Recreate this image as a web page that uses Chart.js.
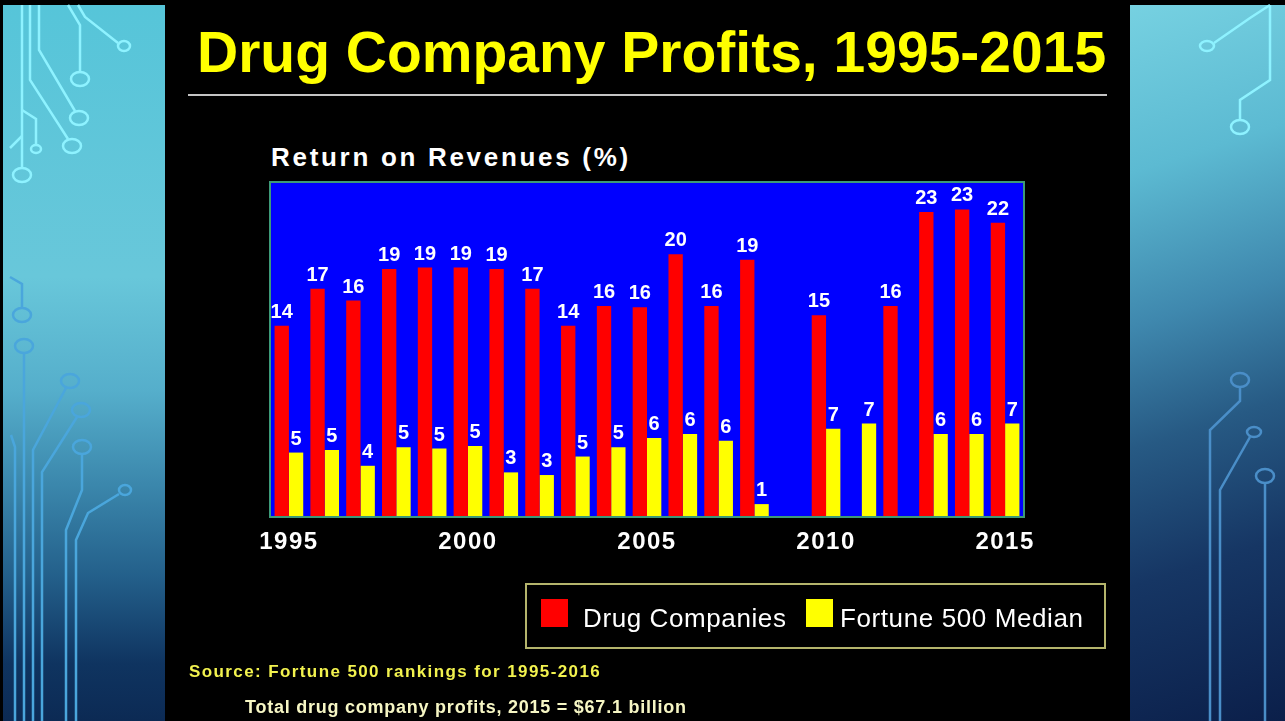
<!DOCTYPE html>
<html>
<head>
<meta charset="utf-8">
<script src="https://cdn.jsdelivr.net/npm/chart.js@4.4.1/dist/chart.umd.min.js"></script>
<style>
html,body{margin:0;padding:0;background:#000;width:1285px;height:721px;overflow:hidden;}
#stage{position:relative;width:1285px;height:721px;background:#000;overflow:hidden;}
#leftPanel{position:absolute;left:3px;top:5px;width:162px;height:716px;
  background:linear-gradient(180deg,#56c5d9 0%,#68c7da 38%,#55aecb 54%,#3b87ac 67%,#235f8a 80%,#0f3460 92%,#0c2a54 100%);}
#rightPanel{position:absolute;left:1130px;top:5px;width:155px;height:716px;
  background:linear-gradient(162deg,#76d1e1 0%,#5cbad2 22%,#3f88ae 42%,#275a84 58%,#163664 76%,#0b1f4a 100%);}
#circuit{position:absolute;left:0;top:0;}
#chart{position:absolute;left:0;top:0;}
.txt{position:absolute;white-space:nowrap;line-height:1;font-family:"Liberation Sans",Arial,Helvetica,sans-serif;}
#title{left:197px;top:24px;font-size:57px;font-weight:bold;color:#ffff00;}
#rule{position:absolute;left:188px;top:94px;width:919px;height:2px;background:#c4c4c4;}
#subtitle{left:271px;top:144px;font-size:26px;font-weight:bold;color:#ffffff;letter-spacing:2.7px;}
#legendBox{position:absolute;left:525px;top:583px;width:577px;height:62px;border:2px solid #b4b46c;}
.swatch{position:absolute;width:27px;height:28px;}
.legText{font-size:26px;color:#ffffff;letter-spacing:0.6px;}
#source{left:189px;top:663px;font-size:17px;font-weight:bold;color:#f2f24e;letter-spacing:1.4px;}
#total{left:245px;top:698px;font-size:18px;font-weight:bold;color:#f6f6c4;letter-spacing:0.76px;}
</style>
</head>
<body>
<div id="stage">
  <div id="leftPanel"></div>
  <div id="rightPanel"></div>
  <svg id="circuit" width="1285" height="721" viewBox="0 0 1285 721" fill="none" stroke-width="2.5">
    <g stroke="#8ef2ff">
      <path d="M22 5 V168"/><ellipse cx="22" cy="175" rx="9" ry="7"/>
      <path d="M30 5 V80 L68 139"/><ellipse cx="72" cy="146" rx="9" ry="7"/>
      <path d="M39 5 V50 L75 111"/><ellipse cx="79" cy="118" rx="9" ry="7"/>
      <path d="M68 5 L80 25 V72"/><ellipse cx="80" cy="79" rx="9" ry="7"/>
      <path d="M78 5 L85 17 L118 43"/><ellipse cx="124" cy="46" rx="6" ry="5"/>
      <path d="M22 110 L36 119 V144"/><ellipse cx="36" cy="149" rx="5" ry="4"/>
      <path d="M10 148 L22 136"/>
      <path d="M1270 5 L1250 18 L1214 43"/><ellipse cx="1207" cy="46" rx="7" ry="5"/>
      <path d="M1270 5 V80 L1240 100 V120"/><ellipse cx="1240" cy="127" rx="9" ry="7"/>
    </g>
    <g stroke="#4aa6dc">
      <path d="M10 277 L22 284 V308"/><ellipse cx="22" cy="315" rx="9" ry="7"/>
      <ellipse cx="24" cy="346" rx="9" ry="7"/><path d="M24 353 V721"/>
      <ellipse cx="70" cy="381" rx="9" ry="7"/><path d="M66 388 L33 450 V721"/>
      <ellipse cx="81" cy="410" rx="9" ry="7"/><path d="M77 417 L42 472 V721"/>
      <ellipse cx="82" cy="447" rx="9" ry="7"/><path d="M82 454 V490 L66 530 V721"/>
      <ellipse cx="125" cy="490" rx="6" ry="5"/><path d="M119 494 L88 513 L76 540 V721"/>
      <path d="M11 435 L15 447 V721"/>
    </g>
    <g stroke="#4a8ec8">
      <ellipse cx="1240" cy="380" rx="9" ry="7"/><path d="M1240 387 V401 L1210 430 V721"/>
      <ellipse cx="1254" cy="432" rx="7" ry="5"/><path d="M1250 437 L1220 490 V721"/>
      <ellipse cx="1265" cy="476" rx="9" ry="7"/><path d="M1265 483 V721"/>
    </g>
  </svg>
  <div id="title" class="txt">Drug Company Profits, 1995-2015</div>
  <div id="rule"></div>
  <div id="subtitle" class="txt">Return on Revenues (%)</div>
  <canvas id="chart" width="1285" height="721"></canvas>
  <div id="legendBox"></div>
  <div id="source" class="txt">Source: Fortune 500 rankings for 1995-2016</div>
  <div id="total" class="txt">Total drug company profits, 2015 = $67.1 billion</div>
</div>
<script>
// ---- data ----
const years = ['1995','1996','1997','1998','1999','2000','2001','2002','2003','2004','2005',
               '2006','2007','2008','2009','2010','2011','2012','2013','2014','2015'];
const drugCompanies = [14.4, 17.2, 16.3, 18.7, 18.8, 18.8, 18.7, 17.2, 14.4, 15.9, 15.8,
                       19.8, 15.9, 19.4, null, 15.2, null, 15.9, 23.0, 23.2, 22.2];
const fortune500Median = [4.8, 5.0, 3.8, 5.2, 5.1, 5.3, 3.3, 3.1, 4.5, 5.2, 5.9,
                          6.2, 5.7, 0.9, null, 6.6, 7.0, null, 6.2, 6.2, 7.0];
const tickYears = ['1995','2000','2005','2010','2015'];
const seriesNames = ['Drug Companies', 'Fortune 500 Median'];
const seriesColors = ['#ff0000', '#ffff00'];

const FONT = '"Liberation Sans", Arial, Helvetica, sans-serif';

const plotFrame = {
  id: 'plotFrame',
  beforeDraw(chart) {
    const {ctx, chartArea: a} = chart;
    ctx.save();
    ctx.fillStyle = '#0000ff';
    ctx.fillRect(a.left, a.top, a.right - a.left, a.bottom - a.top);
    ctx.restore();
    ctx.letterSpacing = '1.5px';
  },
  afterDatasetsDraw(chart) {
    const {ctx, chartArea: a} = chart;
    ctx.save();
    ctx.strokeStyle = '#3d9a78';
    ctx.lineWidth = 2;
    ctx.strokeRect(a.left - 1, a.top - 1, a.right - a.left + 2, a.bottom - a.top + 2);
    ctx.restore();
  }
};

const valueLabels = {
  id: 'valueLabels',
  afterDatasetsDraw(chart) {
    const ctx = chart.ctx;
    ctx.save();
    ctx.letterSpacing = '0px';
    ctx.font = 'bold 20px ' + FONT;
    ctx.fillStyle = '#ffffff';
    ctx.textAlign = 'center';
    ctx.textBaseline = 'alphabetic';
    chart.data.datasets.forEach((ds, i) => {
      const meta = chart.getDatasetMeta(i);
      meta.data.forEach((el, j) => {
        const v = ds.data[j];
        if (v === null || v === undefined) return;
        ctx.fillText(String(Math.round(v)), el.x, el.y - 8);
      });
    });
    ctx.restore();
  }
};

const chart = new Chart(document.getElementById('chart'), {
  type: 'bar',
  data: {
    labels: years,
    datasets: [
      {label: seriesNames[0], data: drugCompanies, backgroundColor: seriesColors[0], borderWidth: 0,
       categoryPercentage: 0.8, barPercentage: 1.0},
      {label: seriesNames[1], data: fortune500Median, backgroundColor: seriesColors[1], borderWidth: 0,
       categoryPercentage: 0.8, barPercentage: 1.0}
    ]
  },
  options: {
    responsive: false,
    animation: false,
    devicePixelRatio: 1,
    layout: {padding: {left: 271, right: 262, top: 183, bottom: 145}},
    plugins: {legend: {display: false}, tooltip: {enabled: false}, title: {display: false}},
    scales: {
      x: {
        grid: {display: false, drawTicks: false},
        border: {display: false},
        afterFit(scale) { scale.height = 60; },
        ticks: {
          color: '#ffffff',
          font: {family: FONT, size: 24, weight: 'bold'},
          padding: 12,
          autoSkip: false,
          maxRotation: 0,
          minRotation: 0,
          callback(value) {
            const l = this.getLabelForValue(value);
            return tickYears.includes(l) ? l : '';
          }
        }
      },
      y: {display: false, min: 0, max: 25.2}
    }
  },
  plugins: [plotFrame, valueLabels]
});

// ---- legend built from the chart's datasets ----
const legendBox = document.getElementById('legendBox');
const stage = document.getElementById('stage');
const swatchX = [541, 806];
const textX = [583, 840];
chart.data.datasets.forEach((ds, i) => {
  const sw = document.createElement('div');
  sw.className = 'swatch';
  sw.style.left = swatchX[i] + 'px';
  sw.style.top = '599px';
  sw.style.position = 'absolute';
  sw.style.background = ds.backgroundColor;
  stage.appendChild(sw);
  const t = document.createElement('div');
  t.className = 'txt legText';
  t.style.left = textX[i] + 'px';
  t.style.top = '605px';
  t.textContent = ds.label;
  stage.appendChild(t);
});
</script>
</body>
</html>
